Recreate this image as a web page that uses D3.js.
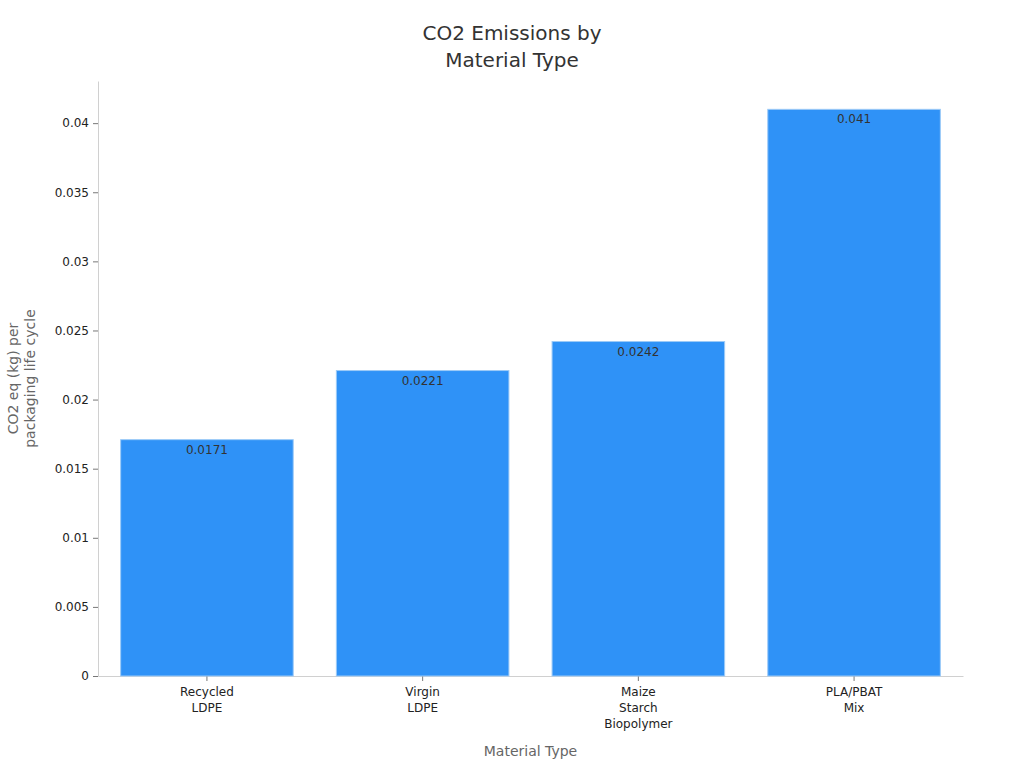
<!DOCTYPE html>
<html>
<head>
<meta charset="utf-8">
<script src="https://cdn.jsdelivr.net/npm/d3@7"></script>
<style>
  body { margin: 0; background: #fff; }
  svg { font-family: "DejaVu Sans", sans-serif; }
</style>
</head>
<body>
<div id="chart"></div>
<script>
var materials = [["Recycled", "LDPE"], ["Virgin", "LDPE"], ["Maize", "Starch", "Biopolymer"], ["PLA/PBAT", "Mix"]];
var emissions = [0.0171, 0.0221, 0.0242, 0.041];
var yTicks = [0, 0.005, 0.01, 0.015, 0.02, 0.025, 0.03, 0.035, 0.04];

var svgWidth = 1024;
var svgHeight = 768;
var margin = {top: 81, right: 61, bottom: 92, left: 98};
var chartWidth = svgWidth - margin.left - margin.right;
var chartHeight = svgHeight - margin.top - margin.bottom;

var svg = d3.select("#chart").append("svg")
  .attr("width", svgWidth)
  .attr("height", svgHeight);

var chartGroup = svg.append("g")
  .attr("transform", `translate(${margin.left}, ${margin.top})`);

var keys = materials.map(d => d.join(" "));

var xScale = d3.scaleBand()
  .domain(keys)
  .range([0, chartWidth])
  .paddingInner(0.2)
  .paddingOuter(0.105);

var yScale = d3.scaleLinear()
  .domain([0, d3.max(emissions) * 1.05])
  .range([chartHeight, 0]);

// axes
var xAxis = chartGroup.append("g")
  .attr("transform", `translate(0, ${chartHeight})`)
  .call(d3.axisBottom(xScale).tickSize(5).tickSizeOuter(0).tickFormat(""));
var yAxis = chartGroup.append("g")
  .call(d3.axisLeft(yScale).tickValues(yTicks).tickSize(5).tickSizeOuter(0).tickFormat(d => d === 0 ? "0" : d3.format("")(+d.toFixed(3))));

[xAxis, yAxis].forEach(function(a) {
  a.select(".domain").attr("stroke", "#d0d0d0");
  a.selectAll(".tick line").attr("stroke", "#777");
  a.selectAll(".tick text").attr("fill", "#222").attr("font-size", "12px")
    .attr("font-family", "DejaVu Sans, sans-serif");
});
yAxis.selectAll(".tick text").attr("x", -9);

// multi-line category labels
xAxis.selectAll(".tick").each(function(d, i) {
  var t = d3.select(this).select("text").attr("y", 11).attr("dy", null);
  materials[i].forEach(function(line, j) {
    t.append("tspan").attr("x", 0).attr("dy", j === 0 ? "0.71em" : "16px").text(line);
  });
});

// bars
chartGroup.append("g").selectAll("rect")
  .data(emissions)
  .enter()
  .append("rect")
  .attr("x", (d, i) => xScale(keys[i]))
  .attr("y", d => yScale(d))
  .attr("width", xScale.bandwidth())
  .attr("height", d => chartHeight - yScale(d))
  .attr("fill", "#2f92f7")
  .attr("stroke", "#9ccaf7")
  .attr("stroke-width", 1);

// value labels
chartGroup.append("g").selectAll("text")
  .data(emissions)
  .enter()
  .append("text")
  .attr("x", (d, i) => xScale(keys[i]) + xScale.bandwidth() / 2)
  .attr("y", d => yScale(d) + 14)
  .attr("text-anchor", "middle")
  .attr("font-size", "12px")
  .attr("fill", "#333")
  .text(d => d);

// title
var title = svg.append("text")
  .attr("x", 512)
  .attr("text-anchor", "middle")
  .attr("font-size", "20px")
  .attr("fill", "#333");
title.append("tspan").attr("x", 512).attr("y", 40).text("CO2 Emissions by");
title.append("tspan").attr("x", 512).attr("y", 67).text("Material Type");

// axis labels
svg.append("text")
  .attr("x", margin.left + chartWidth / 2)
  .attr("y", 756)
  .attr("text-anchor", "middle")
  .attr("font-size", "14px")
  .attr("fill", "#666")
  .text("Material Type");

var yLabel = svg.append("text")
  .attr("transform", `translate(0, ${margin.top + chartHeight / 2}) rotate(-90)`)
  .attr("text-anchor", "middle")
  .attr("font-size", "14px")
  .attr("fill", "#666");
yLabel.append("tspan").attr("x", 0).attr("y", 18).text("CO2 eq (kg) per");
yLabel.append("tspan").attr("x", 0).attr("y", 35).text("packaging life cycle");
</script>
</body>
</html>
